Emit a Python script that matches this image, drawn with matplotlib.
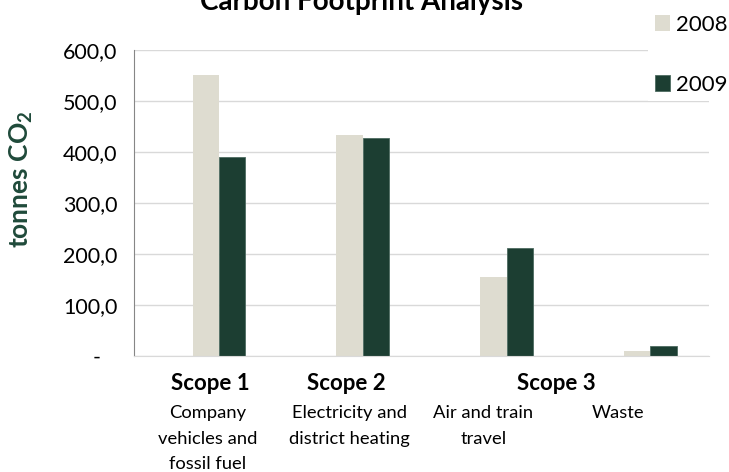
import matplotlib
matplotlib.use("Agg")
import matplotlib.pyplot as plt
import numpy as np
from matplotlib.ticker import FuncFormatter

plt.rcParams["font.family"] = ["Lato", "DejaVu Sans"]
plt.rcParams["mathtext.fontset"] = "custom"
plt.rcParams["mathtext.rm"] = "Lato"
plt.rcParams["mathtext.bf"] = "Lato:bold"

categories = ["Company\nvehicles and\nfossil fuel", "Electricity and\ndistrict heating",
              "Air and train\ntravel", "Waste"]
scopes = ["Scope 1", "Scope 2", "Scope 3"]
years = ["2008", "2009"]
values_2008 = [551.0, 433.0, 155.0, 10.5]
values_2009 = [391.0, 428.0, 212.0, 19.6]
y_ticks = [0, 100, 200, 300, 400, 500, 600]

COL_2008 = "#dedcd0"
COL_2009 = "#1c3e32"
GREEN_TXT = "#1f4a3a"
GRID = "#d9d9d9"


def fmt_tick(v, _pos):
    if v == 0:
        return "-   "
    return f"{v:.1f}".replace(".", ",")


def main() -> None:
    fig = plt.figure(figsize=(7.29, 4.72), dpi=100)
    ax = fig.add_axes([0.1838, 0.2458, 0.7888, 0.6482])

    x = np.arange(len(categories))
    w = 0.183
    b1 = ax.bar(x, values_2008, width=w, color=COL_2008, label=years[0], zorder=2)
    b2 = ax.bar(x + w, values_2009, width=w, color=COL_2009, edgecolor="#4d6b60",
                linewidth=0.6, label=years[1], zorder=2)

    ax.set_xlim(-0.5, len(categories) - 0.5)
    ax.set_ylim(0, 600)
    ax.set_yticks(y_ticks)
    ax.yaxis.set_major_formatter(FuncFormatter(fmt_tick))
    ax.tick_params(axis="y", length=0, pad=12, labelsize=15.5, colors="#000000")
    ax.grid(axis="y", color=GRID, linewidth=1.0, zorder=0)
    ax.set_axisbelow(True)
    ax.set_xticks([])

    # category labels, shifted a little like the source
    label_shift = [0.01, 0.0, -0.07, -0.13]
    xt = ax.get_xaxis_transform()
    for xi, sh, lab in zip(x, label_shift, categories):
        ax.text(xi + sh, -0.16, lab, transform=xt, ha="center", va="top",
                fontsize=13.2, linespacing=1.75, multialignment="center")

    scope_x = [0.03, 0.975, 2.436]
    for sx, s in zip(scope_x, scopes):
        ax.text(sx, -0.111, s, transform=xt, ha="center",
                va="baseline", fontsize=16, fontweight="bold")

    for side in ("top", "right"):
        ax.spines[side].set_visible(False)
    ax.spines["left"].set_color("#868686")
    ax.spines["bottom"].set_color(GRID)

    ax.set_ylabel(r"tonnes CO$_\mathbf{2}$", fontsize=19, fontweight="bold", color=GREEN_TXT)
    ax.yaxis.set_label_coords(-0.172, 0.578)

    fig.text(361 / 729, 1 - 10 / 472, "Carbon Footprint Analysis", ha="center",
             va="baseline", fontsize=20, fontweight="bold")

    leg = fig.legend(handles=[b1, b2], labels=years, loc="upper left",
                     bbox_to_anchor=(0.889, 0.983), fontsize=16, frameon=True,
                     facecolor="white", edgecolor="none", framealpha=1,
                     borderpad=0.3, borderaxespad=0, handlelength=0.68,
                     handleheight=0.68, handletextpad=0.27, labelspacing=1.8)
    leg.get_frame().set_boxstyle("square", pad=0)

    fig.savefig("out.png", dpi=100)


if __name__ == "__main__":
    main()
